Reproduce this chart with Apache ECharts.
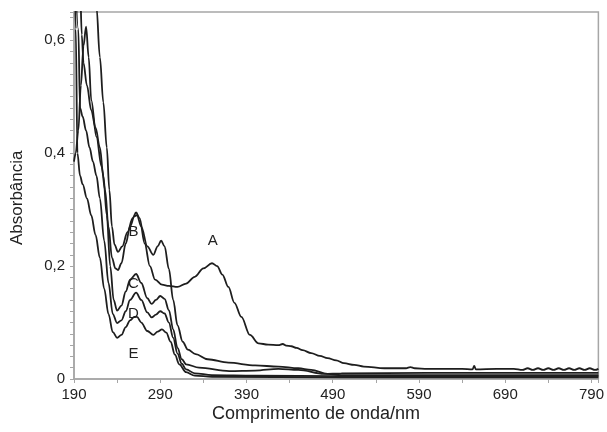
<!DOCTYPE html>
<html>
<head>
<meta charset="utf-8">
<script src="https://cdn.jsdelivr.net/npm/echarts@6/dist/echarts.min.js"></script>
<style>
  html, body { margin: 0; padding: 0; background: #fff; }
  #main { width: 607px; height: 432px; }
</style>
</head>
<body>
<div id="main"></div>
<script>
// wavelength (nm) and absorbance, one pair of arrays per spectrum
const wlA  = [190, 205, 212, 216, 220, 224, 228, 231, 234, 237, 241, 246, 252, 258, 262, 266, 272, 278, 284, 292, 300, 310, 320, 330, 340, 350, 356, 362, 369, 376, 384, 394, 404, 415, 427, 432, 436, 442, 448, 455, 465, 475, 484, 494, 503, 515, 526, 550, 575, 580, 585, 600, 620, 640, 652, 654, 656, 680, 700, 710, 716, 722, 728, 734, 740, 746, 752, 758, 764, 770, 776, 782, 788, 794, 798];
const absA = [0.80, 0.75, 0.70, 0.66, 0.57, 0.49, 0.41, 0.335, 0.27, 0.238, 0.225, 0.235, 0.26, 0.285, 0.295, 0.285, 0.24, 0.20, 0.176, 0.167, 0.165, 0.163, 0.169, 0.181, 0.196, 0.205, 0.200, 0.185, 0.163, 0.135, 0.110, 0.078, 0.063, 0.061, 0.060, 0.062, 0.059, 0.058, 0.055, 0.051, 0.046, 0.041, 0.037, 0.033, 0.028, 0.025, 0.022, 0.019, 0.019, 0.021, 0.019, 0.018, 0.018, 0.018, 0.017, 0.023, 0.017, 0.018, 0.018, 0.016, 0.019, 0.016, 0.019, 0.016, 0.019, 0.016, 0.019, 0.016, 0.019, 0.016, 0.019, 0.016, 0.019, 0.016, 0.018];

const wlB  = [190, 192, 195, 198, 201, 204, 207, 210, 216, 222, 226, 230, 234, 238, 241, 245, 250, 255, 260, 263, 268, 275, 282, 287, 291, 295, 300, 305, 310, 316, 322, 331, 345, 369, 400, 427, 450, 465, 484, 500, 600, 700, 798];
const absB = [0.385, 0.40, 0.44, 0.52, 0.59, 0.624, 0.57, 0.494, 0.429, 0.376, 0.335, 0.27, 0.215, 0.196, 0.193, 0.205, 0.24, 0.27, 0.288, 0.290, 0.27, 0.235, 0.220, 0.235, 0.245, 0.235, 0.195, 0.140, 0.095, 0.066, 0.052, 0.044, 0.035, 0.029, 0.024, 0.022, 0.019, 0.016, 0.009, 0.007, 0.007, 0.007, 0.007];

const wlC  = [190, 197, 199, 201, 205, 210, 215, 220, 224, 228, 232, 236, 240, 245, 250, 255, 262, 268, 275, 280, 285, 290, 295, 300, 305, 310, 315, 320, 335, 370, 400, 427, 450, 480, 500, 600, 700, 798];
const absC = [0.80, 0.70, 0.61, 0.56, 0.52, 0.476, 0.445, 0.41, 0.36, 0.29, 0.20, 0.14, 0.121, 0.13, 0.155, 0.176, 0.186, 0.17, 0.143, 0.133, 0.14, 0.147, 0.142, 0.122, 0.088, 0.055, 0.035, 0.026, 0.020, 0.014, 0.015, 0.018, 0.016, 0.009, 0.010, 0.011, 0.011, 0.011];

const wlD  = [190, 195, 197, 200, 204, 208, 212, 216, 220, 225, 230, 235, 240, 245, 250, 255, 262, 268, 275, 280, 285, 290, 295, 300, 305, 310, 315, 320, 330, 350, 400, 500, 600, 700, 798];
const absD = [0.80, 0.62, 0.48, 0.465, 0.44, 0.41, 0.385, 0.36, 0.32, 0.245, 0.17, 0.115, 0.099, 0.104, 0.12, 0.14, 0.153, 0.14, 0.118, 0.109, 0.114, 0.120, 0.116, 0.100, 0.073, 0.045, 0.027, 0.017, 0.010, 0.007, 0.006, 0.005, 0.005, 0.005, 0.005];

const wlE  = [190, 192, 194, 197, 200, 205, 210, 215, 220, 225, 230, 235, 240, 245, 250, 255, 260, 263, 268, 275, 282, 287, 292, 297, 302, 307, 312, 320, 330, 350, 500, 600, 700, 798];
const absE = [0.80, 0.62, 0.40, 0.36, 0.345, 0.32, 0.29, 0.255, 0.215, 0.16, 0.115, 0.083, 0.073, 0.078, 0.092, 0.104, 0.110, 0.110, 0.100, 0.085, 0.078, 0.084, 0.088, 0.082, 0.066, 0.043, 0.026, 0.012, 0.006, 0.004, 0.003, 0.003, 0.003, 0.003];

// curve labels (wavelength, absorbance)
const labelNames = ['A', 'B', 'C', 'D', 'E'];
const labelWl    = [351, 259, 259, 259, 259];
const labelAbs   = [0.245, 0.26, 0.168, 0.115, 0.045];

const yTicks = [0, 0.2, 0.4, 0.6];

const zip = (xs, ys) => xs.map((x, i) => [x, ys[i]]);

const chart = echarts.init(document.getElementById('main'), null, { renderer: 'canvas' });

const lineStyle = { color: '#1e1e1e', width: 1.8 };
const mk = (name, data) => ({
  name: name,
  type: 'line',
  data: data,
  showSymbol: false,
  smooth: 0.35,
  smoothMonotone: 'x',
  lineStyle: lineStyle,
  clip: true,
  silent: true
});

const axisGrey = '#a6a6a6';
const textCol = '#222';
const font = 'Liberation Sans, Arial, sans-serif';

chart.setOption({
  animation: false,
  grid: { left: 74, right: 4, top: 12, bottom: 53, show: true, borderColor: axisGrey, borderWidth: 1.5 },
  xAxis: {
    type: 'value',
    min: 190,
    max: 798,
    interval: 100,
    axisLine: { lineStyle: { color: axisGrey, width: 1.5 } },
    axisTick: { show: true, length: 4, lineStyle: { color: axisGrey } },
    minorTick: { show: true, splitNumber: 2, length: 4, lineStyle: { color: axisGrey } },
    splitLine: { show: false },
    axisLabel: { color: textCol, fontSize: 15, fontFamily: font, margin: 8, showMaxLabel: false }
  },
  yAxis: {
    type: 'value',
    min: 0,
    max: 0.65,
    interval: 0.2,
    axisLine: { show: true, lineStyle: { color: axisGrey, width: 1.5 } },
    axisTick: { show: true, length: 4, lineStyle: { color: axisGrey } },
    minorTick: { show: true, splitNumber: 10, length: 4, lineStyle: { color: axisGrey } },
    splitLine: { show: false },
    axisLabel: {
      color: textCol, fontSize: 15, fontFamily: font, margin: 9, showMaxLabel: false,
      formatter: v => (yTicks.indexOf(Math.round(v * 10) / 10) >= 0 ? String(Math.round(v * 10) / 10).replace('.', ',') : '')
    }
  },
  graphic: [
    {
      type: 'text', left: 212, top: 405,
      style: { text: 'Comprimento de onda/nm', font: '18px ' + font, fill: textCol }
    },
    {
      type: 'text', x: 9, y: 245, rotation: Math.PI / 2,
      style: { text: 'Absorbância', font: '17px ' + font, fill: textCol }
    }
  ],
  series: [
    mk('A', zip(wlA, absA)),
    mk('B', zip(wlB, absB)),
    mk('C', zip(wlC, absC)),
    mk('D', zip(wlD, absD)),
    mk('E', zip(wlE, absE)),
    {
      type: 'scatter',
      data: labelNames.map((n, i) => [labelWl[i], labelAbs[i], n]),
      symbolSize: 0,
      silent: true,
      itemStyle: { opacity: 1 },
      label: {
        show: true,
        position: 'inside',
        formatter: p => p.data[2],
        color: textCol,
        opacity: 1,
        fontSize: 15,
        fontFamily: font
      }
    }
  ]
});
</script>
</body>
</html>
